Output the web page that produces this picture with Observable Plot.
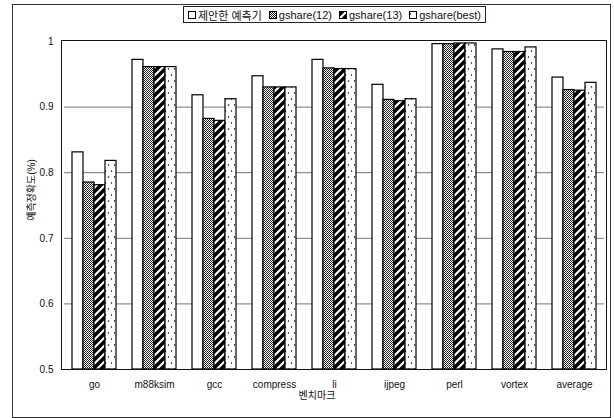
<!DOCTYPE html>
<html>
<head>
<meta charset="utf-8">
<script src="https://cdn.jsdelivr.net/npm/d3@7"></script>
<script src="https://cdn.jsdelivr.net/npm/@observablehq/plot@0.6"></script>
<style>
  html, body { margin: 0; padding: 0; background: #fff; }
  #wrap { position: relative; width: 614px; height: 418px; font-family: "Liberation Sans", Arial, "Noto Sans CJK KR", sans-serif; color: #111; }
  #outer { position: absolute; left: 12px; top: 4px; width: 597px; height: 412px; border: 1px solid #333; pointer-events: none; }
  #pframe { position: absolute; left: 61px; top: 40px; width: 544px; height: 328px; border: 1px solid #111; pointer-events: none; }
  #legend { position: absolute; left: 183px; top: 6px; height: 15px; padding: 0 4px; border: 1px solid #222; background: #fff; display: flex; align-items: center; font-size: 11px; white-space: nowrap; }
  #legend .item { display: flex; align-items: center; margin-right: 7px; }
  #legend .item:last-child { margin-right: 0; }
  #legend svg { margin-right: 2px; }
  #ylab { position: absolute; left: 30px; top: 190px; transform: translate(-50%, -50%) rotate(-90deg); font-size: 10px; white-space: nowrap; }
  #xlab { position: absolute; left: 317px; top: 394px; transform: translate(-50%, -50%); font-size: 10px; white-space: nowrap; }
</style>
</head>
<body>
<div id="wrap">
  <div id="chart"></div>
  <div id="outer"></div>
  <div id="pframe"></div>
  <div id="legend"></div>
  <div id="ylab">예측정확도(%)</div>
  <div id="xlab">벤치마크</div>
</div>
<script>
const benchmarks = ["go", "m88ksim", "gcc", "compress", "li", "ijpeg", "perl", "vortex", "average"];
const seriesNames = ["제안한 예측기", "gshare(12)", "gshare(13)", "gshare(best)"];
const proposed = [0.831, 0.972, 0.918, 0.947, 0.972, 0.934, 0.996, 0.988, 0.945];
const gshare12 = [0.785, 0.961, 0.882, 0.930, 0.959, 0.911, 0.996, 0.984, 0.926];
const gshare13 = [0.781, 0.961, 0.879, 0.930, 0.958, 0.909, 0.997, 0.984, 0.925];
const gshareBest = [0.818, 0.961, 0.912, 0.930, 0.958, 0.912, 0.997, 0.991, 0.937];
const yTicks = [0.5, 0.6, 0.7, 0.8, 0.9, 1];
const yGrid = [0.6, 0.7, 0.8, 0.9];

const seriesValues = [proposed, gshare12, gshare13, gshareBest];
const patternIds = ["pat-plain", "pat-check", "pat-stripe", "pat-dots"];
const patternUrls = patternIds.map(id => `url(#${id})`);

const rows = [];
benchmarks.forEach((b, i) => {
  seriesNames.forEach((s, j) => rows.push({bench: b, series: s, value: seriesValues[j][i]}));
});

const plot = Plot.plot({
  width: 614,
  height: 418,
  marginLeft: 62,
  marginRight: 8,
  marginTop: 41,
  marginBottom: 49,
  style: {fontFamily: "'Liberation Sans', Arial, sans-serif", fontSize: "10px", background: "transparent", color: "#111"},
  facet: {data: rows, x: "bench"},
  fx: {domain: benchmarks, padding: 0, axis: "bottom", tickSize: 0, tickPadding: 11, label: null},
  x: {domain: seriesNames, paddingInner: 0, paddingOuter: 0.68, axis: null},
  y: {domain: [0.5, 1], ticks: yTicks, tickFormat: d => String(d), tickSize: 0, tickPadding: 11, label: null},
  color: {type: "ordinal", domain: seriesNames, range: patternUrls},
  marks: [
    Plot.ruleY(yGrid, {stroke: "#777", strokeWidth: 1}),
    Plot.barY(rows, {x: "series", y1: 0.5, y2: "value", fill: "series", stroke: "#000", strokeWidth: 1.2})
  ]
});

const defs = `
<defs>
  <pattern id="pat-plain" patternUnits="userSpaceOnUse" width="4" height="4">
    <rect width="4" height="4" fill="#fff"/>
  </pattern>
  <pattern id="pat-check" patternUnits="userSpaceOnUse" width="2" height="2">
    <rect width="2" height="2" fill="#fff"/>
    <rect x="0" y="0" width="1" height="1" fill="#222"/>
    <rect x="1" y="1" width="1" height="1" fill="#222"/>
  </pattern>
  <pattern id="pat-stripe" patternUnits="userSpaceOnUse" width="8" height="8">
    <rect width="8" height="8" fill="#000"/>
    <path d="M-1,9 L9,-1 M-3,3 L3,-3 M5,11 L11,5" stroke="#fff" stroke-width="2.2"/>
  </pattern>
  <pattern id="pat-dots" patternUnits="userSpaceOnUse" width="6" height="12">
    <rect width="6" height="12" fill="#fff"/>
    <circle cx="1.5" cy="3" r="0.75" fill="#000"/>
    <circle cx="4.5" cy="9" r="0.75" fill="#000"/>
  </pattern>
</defs>`;
const svgEl = plot.tagName.toLowerCase() === "svg" ? plot : plot.querySelector("svg");
svgEl.insertAdjacentHTML("afterbegin", defs);
document.getElementById("chart").appendChild(plot);

const legend = document.getElementById("legend");
seriesNames.forEach((s, j) => {
  const item = document.createElement("div");
  item.className = "item";
  item.innerHTML = `<svg width="8" height="8"><rect x="0.5" y="0.5" width="7" height="7" fill="${patternUrls[j]}" stroke="#000" stroke-width="1"/></svg><span>${s}</span>`;
  legend.appendChild(item);
});
</script>
</body>
</html>
